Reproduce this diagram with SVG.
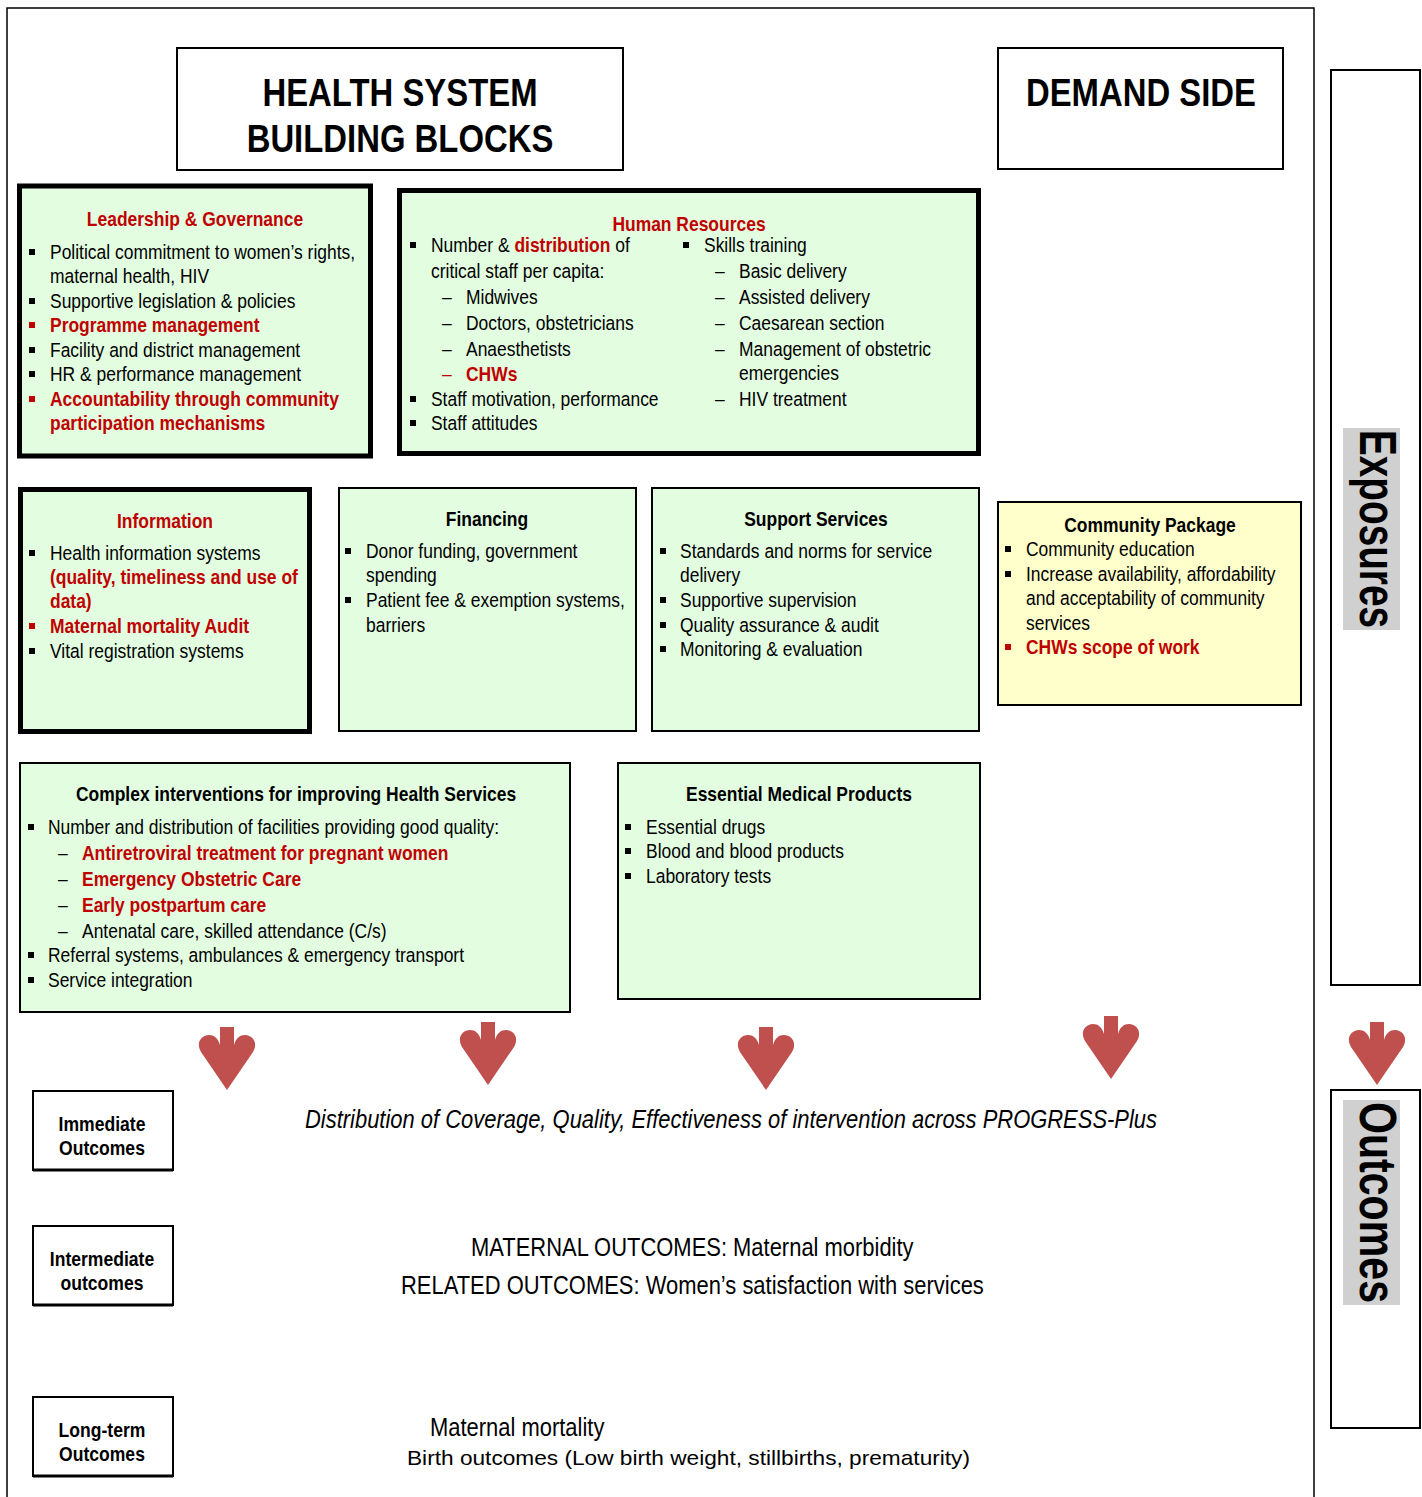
<svg xmlns="http://www.w3.org/2000/svg" xmlns:xlink="http://www.w3.org/1999/xlink" width="1422" height="1497" viewBox="0 0 1422 1497">
  <style>
    /* narrow sans: regular sans squeezed horizontally around each text's own box */
    .t, .lab, .big, .out { font-family: "Liberation Sans Narrow", "Arial Narrow", "Liberation Sans", sans-serif; fill: #000;
      transform-box: fill-box; transform-origin: left center; }
    .t { font-size: 19.5px; transform: scaleX(0.895); }
    .b { font-weight: bold; }
    .r { fill: #C00000; }
    .c { text-anchor: middle; transform-origin: center; }
    .big { font-weight: bold; font-size: 38px; text-anchor: middle; transform-origin: center; transform: scaleX(0.865); }
    .lab { font-weight: bold; font-size: 19.5px; text-anchor: middle; transform-origin: center; transform: scaleX(0.9); }
    .out { font-size: 25px; transform: scaleX(0.878); }
    .vert { font-family: "Liberation Sans", Arial, sans-serif; font-weight: bold; font-size: 52px; }
    .thick { fill: #E3FDE1; stroke: #000; stroke-width: 5; }
    .thin { fill: #E3FDE1; stroke: #000; stroke-width: 2; }
    .hdr { fill: #fff; stroke: #000; stroke-width: 2; }
    .frame { fill: none; stroke: #000; stroke-width: 1.5; }
    .arrow { fill: #C0504D; }
  </style>
  <defs>
    <rect id="bl" width="6" height="6"/>
    <rect id="blr" width="6" height="6" fill="#C00000"/>
    <path id="arr" d="M -7 0 H 7 V 18 C 9 11 13 8 18 8 C 24 8 29 13 28 19 C 28 21 27 23 26 25 L 0 63 L -26 25 C -27 23 -28 21 -28 19 C -29 13 -24 8 -18 8 C -13 8 -9 11 -7 18 Z"/>
  </defs>
  <rect width="1422" height="1497" fill="#fff"/>

  <!-- outer frame, open at the bottom -->
  <path class="frame" d="M 7 1497 V 8 H 1314 V 1497"/>

  <!-- header boxes -->
  <g id="hsbb">
    <rect class="hdr" x="177" y="48" width="446" height="122"/>
    <text class="big" x="400" y="106">HEALTH SYSTEM</text>
    <text class="big" x="400" y="152">BUILDING BLOCKS</text>
  </g>
  <g id="demand">
    <rect class="hdr" x="998" y="48" width="285" height="121"/>
    <text class="big" x="1141" y="106">DEMAND SIDE</text>
  </g>

  <!-- right-hand column: exposures and outcomes -->
  <g id="exposures">
    <rect class="hdr" x="1331" y="70" width="89" height="915"/>
    <rect x="1343" y="428" width="57" height="202" fill="#D0D0D0"/>
    <text class="vert" transform="translate(1360,430) rotate(90)" textLength="198" lengthAdjust="spacingAndGlyphs">Exposures</text>
  </g>
  <g id="outcomes">
    <rect class="hdr" x="1331" y="1090" width="89" height="338"/>
    <rect x="1343" y="1100" width="57" height="205" fill="#D0D0D0"/>
    <text class="vert" transform="translate(1360,1102) rotate(90)" textLength="201" lengthAdjust="spacingAndGlyphs">Outcomes</text>
  </g>

  <!-- Leadership & Governance -->
  <g id="leadership">
    <rect class="thick" x="19.5" y="186" width="351" height="270"/>
    <text class="t b r c" x="195" y="226">Leadership &amp; Governance</text>
    <use xlink:href="#bl" x="29" y="249"/>
    <text class="t" x="50" y="259">Political commitment to women’s rights,</text>
    <text class="t" x="50" y="283">maternal health, HIV</text>
    <use xlink:href="#bl" x="29" y="298"/>
    <text class="t" x="50" y="308">Supportive legislation &amp; policies</text>
    <use xlink:href="#blr" x="29" y="322"/>
    <text class="t b r" x="50" y="332">Programme management</text>
    <use xlink:href="#bl" x="29" y="347"/>
    <text class="t" x="50" y="357">Facility and district management</text>
    <use xlink:href="#bl" x="29" y="371"/>
    <text class="t" x="50" y="381">HR &amp; performance management</text>
    <use xlink:href="#blr" x="29" y="396"/>
    <text class="t b r" x="50" y="406">Accountability through community</text>
    <text class="t b r" x="50" y="430">participation mechanisms</text>
  </g>

  <!-- Human Resources -->
  <g id="human-resources">
    <rect class="thick" x="399.5" y="190.5" width="579" height="263"/>
    <text class="t b r c" x="689" y="231">Human Resources</text>
    <use xlink:href="#bl" x="410" y="242"/>
    <text class="t" x="431" y="252">Number &amp; <tspan class="b r">distribution</tspan> of</text>
    <text class="t" x="431" y="278">critical staff per capita:</text>
    <text class="t" x="442" y="304">–</text>
    <text class="t" x="466" y="304">Midwives</text>
    <text class="t" x="442" y="330">–</text>
    <text class="t" x="466" y="330">Doctors, obstetricians</text>
    <text class="t" x="442" y="356">–</text>
    <text class="t" x="466" y="356">Anaesthetists</text>
    <text class="t r" x="442" y="381">–</text>
    <text class="t b r" x="466" y="381">CHWs</text>
    <use xlink:href="#bl" x="410" y="396"/>
    <text class="t" x="431" y="406">Staff motivation, performance</text>
    <use xlink:href="#bl" x="410" y="420"/>
    <text class="t" x="431" y="430">Staff attitudes</text>

    <use xlink:href="#bl" x="683" y="242"/>
    <text class="t" x="704" y="252">Skills training</text>
    <text class="t" x="715" y="278">–</text>
    <text class="t" x="739" y="278">Basic delivery</text>
    <text class="t" x="715" y="304">–</text>
    <text class="t" x="739" y="304">Assisted delivery</text>
    <text class="t" x="715" y="330">–</text>
    <text class="t" x="739" y="330">Caesarean section</text>
    <text class="t" x="715" y="356">–</text>
    <text class="t" x="739" y="356">Management of obstetric</text>
    <text class="t" x="739" y="380">emergencies</text>
    <text class="t" x="715" y="406">–</text>
    <text class="t" x="739" y="406">HIV treatment</text>
  </g>

  <!-- Information -->
  <g id="information">
    <rect class="thick" x="20.5" y="489.5" width="289" height="242"/>
    <text class="t b r c" x="165" y="528">Information</text>
    <use xlink:href="#bl" x="29" y="550"/>
    <text class="t" x="50" y="560">Health information systems</text>
    <text class="t b r" x="50" y="584">(quality, timeliness and use of</text>
    <text class="t b r" x="50" y="608">data)</text>
    <use xlink:href="#blr" x="29" y="623"/>
    <text class="t b r" x="50" y="633">Maternal mortality Audit</text>
    <use xlink:href="#bl" x="29" y="648"/>
    <text class="t" x="50" y="658">Vital registration systems</text>
  </g>

  <!-- Financing -->
  <g id="financing">
    <rect class="thin" x="339" y="488" width="297" height="243"/>
    <text class="t b c" x="487" y="526">Financing</text>
    <use xlink:href="#bl" x="345" y="548"/>
    <text class="t" x="366" y="558">Donor funding, government</text>
    <text class="t" x="366" y="582">spending</text>
    <use xlink:href="#bl" x="345" y="597"/>
    <text class="t" x="366" y="607">Patient fee &amp; exemption systems,</text>
    <text class="t" x="366" y="632">barriers</text>
  </g>

  <!-- Support Services -->
  <g id="support">
    <rect class="thin" x="652" y="488" width="327" height="243"/>
    <text class="t b c" x="816" y="526">Support Services</text>
    <use xlink:href="#bl" x="660" y="548"/>
    <text class="t" x="680" y="558">Standards and norms for service</text>
    <text class="t" x="680" y="582">delivery</text>
    <use xlink:href="#bl" x="660" y="597"/>
    <text class="t" x="680" y="607">Supportive supervision</text>
    <use xlink:href="#bl" x="660" y="622"/>
    <text class="t" x="680" y="632">Quality assurance &amp; audit</text>
    <use xlink:href="#bl" x="660" y="646"/>
    <text class="t" x="680" y="656">Monitoring &amp; evaluation</text>
  </g>

  <!-- Community Package -->
  <g id="community">
    <rect x="998" y="502" width="303" height="203" fill="#FFFFCC" stroke="#000" stroke-width="2"/>
    <text class="t b c" x="1150" y="532">Community Package</text>
    <use xlink:href="#bl" x="1005" y="546"/>
    <text class="t" x="1026" y="556">Community education</text>
    <use xlink:href="#bl" x="1005" y="571"/>
    <text class="t" x="1026" y="581">Increase availability, affordability</text>
    <text class="t" x="1026" y="605">and acceptability of community</text>
    <text class="t" x="1026" y="630">services</text>
    <use xlink:href="#blr" x="1005" y="644"/>
    <text class="t b r" x="1026" y="654">CHWs scope of work</text>
  </g>

  <!-- Complex interventions -->
  <g id="complex">
    <rect class="thin" x="20" y="763" width="550" height="249"/>
    <text class="t b c" x="296" y="801">Complex interventions for improving Health Services</text>
    <use xlink:href="#bl" x="28" y="824"/>
    <text class="t" x="48" y="834">Number and distribution of facilities providing good quality:</text>
    <text class="t" x="58" y="860">–</text>
    <text class="t b r" x="82" y="860">Antiretroviral treatment for pregnant women</text>
    <text class="t" x="58" y="886">–</text>
    <text class="t b r" x="82" y="886">Emergency Obstetric Care</text>
    <text class="t" x="58" y="912">–</text>
    <text class="t b r" x="82" y="912">Early postpartum care</text>
    <text class="t" x="58" y="938">–</text>
    <text class="t" x="82" y="938">Antenatal care, skilled attendance (C/s)</text>
    <use xlink:href="#bl" x="28" y="952"/>
    <text class="t" x="48" y="962">Referral systems, ambulances &amp; emergency transport</text>
    <use xlink:href="#bl" x="28" y="977"/>
    <text class="t" x="48" y="987">Service integration</text>
  </g>

  <!-- Essential Medical Products -->
  <g id="medical-products">
    <rect class="thin" x="618" y="763" width="362" height="236"/>
    <text class="t b c" x="799" y="801">Essential Medical Products</text>
    <use xlink:href="#bl" x="625" y="824"/>
    <text class="t" x="646" y="834">Essential drugs</text>
    <use xlink:href="#bl" x="625" y="848"/>
    <text class="t" x="646" y="858">Blood and blood products</text>
    <use xlink:href="#bl" x="625" y="873"/>
    <text class="t" x="646" y="883">Laboratory tests</text>
  </g>

  <!-- downward arrows from exposures to outcomes -->
  <g id="connectors">
    <use xlink:href="#arr" class="arrow" x="227" y="1027"/>
    <use xlink:href="#arr" class="arrow" x="488" y="1022"/>
    <use xlink:href="#arr" class="arrow" x="766" y="1027"/>
    <use xlink:href="#arr" class="arrow" x="1111" y="1016"/>
    <use xlink:href="#arr" class="arrow" x="1377" y="1022"/>
  </g>

  <!-- outcome level labels -->
  <g id="immediate">
    <rect class="hdr" x="33" y="1091" width="140" height="79"/>
    <line x1="33" y1="1170" x2="173" y2="1170" stroke="#000" stroke-width="3"/>
    <text class="lab" x="102" y="1131">Immediate</text>
    <text class="lab" x="102" y="1155">Outcomes</text>
  </g>
  <g id="intermediate">
    <rect class="hdr" x="33" y="1226" width="140" height="79"/>
    <line x1="33" y1="1305" x2="173" y2="1305" stroke="#000" stroke-width="3"/>
    <text class="lab" x="102" y="1266">Intermediate</text>
    <text class="lab" x="102" y="1290">outcomes</text>
  </g>
  <g id="long-term">
    <rect class="hdr" x="33" y="1397" width="140" height="79"/>
    <line x1="33" y1="1476" x2="173" y2="1476" stroke="#000" stroke-width="3"/>
    <text class="lab" x="102" y="1437">Long-term</text>
    <text class="lab" x="102" y="1461">Outcomes</text>
  </g>

  <!-- outcome statements -->
  <g id="outcome-text">
    <text class="out" x="305" y="1128" font-style="italic">Distribution of Coverage, Quality, Effectiveness of intervention across PROGRESS-Plus</text>
    <text class="out" x="471" y="1256">MATERNAL OUTCOMES: Maternal morbidity</text>
    <text class="out" x="401" y="1294">RELATED OUTCOMES: Women’s satisfaction with services</text>
    <text class="out" x="430" y="1436">Maternal mortality</text>
    <text x="407" y="1465" font-family="'Liberation Sans', Arial, sans-serif" font-size="21" textLength="563" lengthAdjust="spacingAndGlyphs">Birth outcomes (Low birth weight, stillbirths, prematurity)</text>
  </g>
</svg>
